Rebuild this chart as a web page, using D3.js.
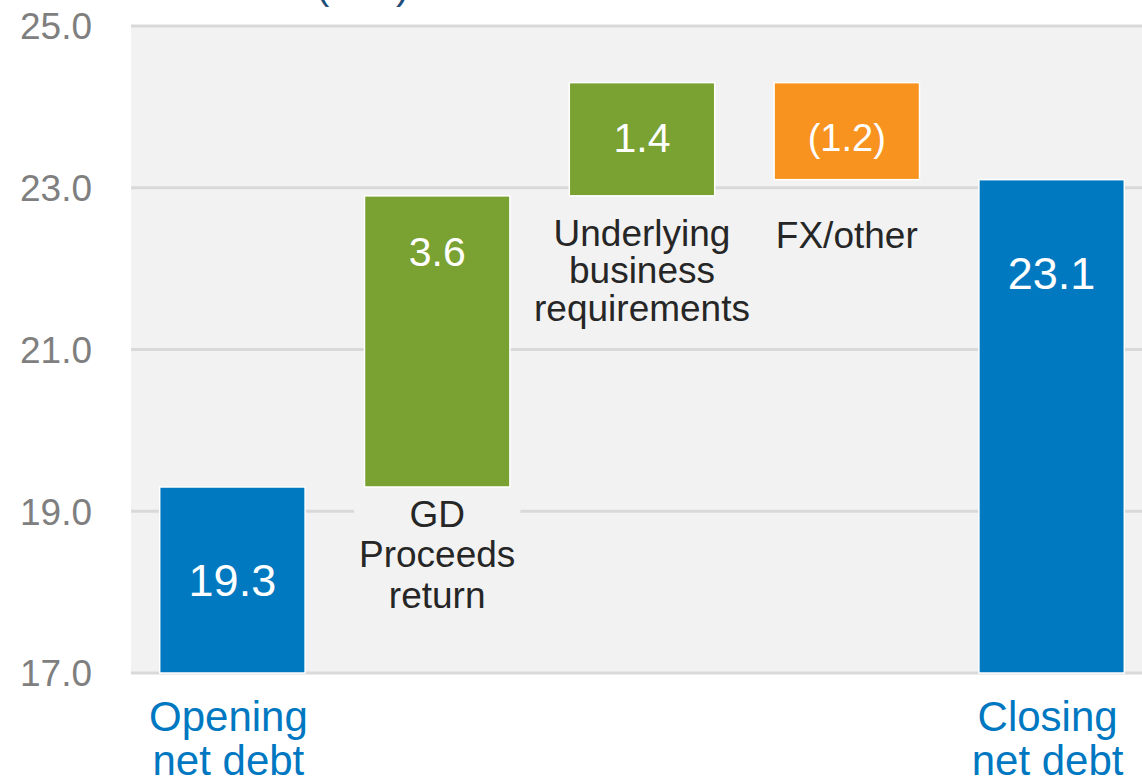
<!DOCTYPE html>
<html>
<head>
<meta charset="utf-8">
<script src="https://cdn.jsdelivr.net/npm/d3@7"></script>
<style>
  html, body { margin: 0; padding: 0; background: #fff; }
  svg { display: block; font-family: "Liberation Sans", Arial, sans-serif; }
</style>
</head>
<body>
<div id="chart"></div>
<script>
// ── Data ────────────────────────────────────────────────────
const categories = ["Opening net debt", "GD Proceeds return", "Underlying business requirements", "FX/other", "Closing net debt"];
const labelLines = [["Opening", "net debt"], ["GD", "Proceeds", "return"], ["Underlying", "business", "requirements"], ["FX/other"], ["Closing", "net debt"]];
const values = [19.3, 3.6, 1.4, -1.2, 23.1];
const kinds = ["total", "increase", "increase", "decrease", "total"];
const valueLabels = ["19.3", "3.6", "1.4", "(1.2)", "23.1"];
const yTicks = [17, 19, 21, 23, 25];
const unitTitle = "(£bn)";

// ── Layout ──────────────────────────────────────────────────
const width = 1142, height = 777;
const plot = { left: 131, right: 1142, top: 26, bottom: 673 };
const colors = { total: "#0079c1", increase: "#7aa232", decrease: "#f7931e" };
// gap from bar bottom to first label baseline, and line height, per delta bar
const labelGap = [0, 40, 50, 68, 0];
const lineGap = [44, 40.5, 37.5, 37.5, 44];

const svg = d3.select("#chart").append("svg")
  .attr("width", width).attr("height", height);

const y = d3.scaleLinear().domain([17, 25]).range([plot.bottom, plot.top]);
const x = d3.scaleBand().domain(categories).range([130, 1154])
  .paddingInner(0.29).paddingOuter(0.145);

// waterfall steps
let running = 0;
const steps = categories.map((c, i) => {
  let lo, hi;
  if (kinds[i] === "total") {
    lo = y.domain()[0]; hi = values[i]; running = values[i];
  } else {
    const start = running;
    running += values[i];
    lo = Math.min(start, running); hi = Math.max(start, running);
  }
  return { cat: c, i, lo, hi, kind: kinds[i], label: valueLabels[i], lines: labelLines[i] };
});

// title fragment (cut off at top edge)
svg.append("text")
  .attr("x", 316).attr("y", -1)
  .attr("font-size", 40).attr("fill", "#1f4e79")
  .text(unitTitle);

// plot background
svg.append("rect")
  .attr("x", plot.left).attr("y", plot.top)
  .attr("width", plot.right - plot.left).attr("height", plot.bottom - plot.top)
  .attr("fill", "#f2f2f2");

// gridlines
svg.selectAll("line.grid").data(yTicks).join("line")
  .attr("class", "grid")
  .attr("x1", plot.left).attr("x2", plot.right)
  .attr("y1", d => y(d)).attr("y2", d => y(d))
  .attr("stroke", "#d9d9d9").attr("stroke-width", 3);

// y tick labels
svg.selectAll("text.ytick").data(yTicks).join("text")
  .attr("class", "ytick")
  .attr("x", 92).attr("y", d => y(d))
  .attr("dy", "0.36em")
  .attr("text-anchor", "end")
  .attr("font-size", 37).attr("fill", "#7f7f7f")
  .text(d => d3.format(".1f")(d));

// category labels for delta bars (inside plot, on a background box)
const deltaSteps = steps.filter(d => d.kind !== "total");
const catG = svg.selectAll("g.cat").data(deltaSteps).join("g").attr("class", "cat");
const bgRects = catG.append("rect").attr("fill", "#f2f2f2");
catG.each(function(d) {
  const g = d3.select(this);
  const cx = x(d.cat) + x.bandwidth() / 2;
  const base = y(d.lo) + labelGap[d.i];
  d.lines.forEach((line, k) => {
    g.append("text")
      .attr("x", cx).attr("y", base + k * lineGap[d.i])
      .attr("text-anchor", "middle")
      .attr("font-size", 37).attr("fill", "#262626")
      .text(line);
  });
});
bgRects.each(function() {
  const bb = this.parentNode.getBBox();
  d3.select(this)
    .attr("x", bb.x - 5).attr("y", bb.y - 4)
    .attr("width", bb.width + 10).attr("height", bb.height + 8);
});

// bars
svg.selectAll("rect.bar").data(steps).join("rect")
  .attr("class", "bar")
  .attr("x", d => x(d.cat))
  .attr("y", d => y(d.hi))
  .attr("width", x.bandwidth())
  .attr("height", d => y(d.lo) - y(d.hi))
  .attr("fill", d => colors[d.kind])
  .attr("stroke", "#fff").attr("stroke-width", 1.5);

// value labels
svg.selectAll("text.val").data(steps).join("text")
  .attr("class", "val")
  .attr("x", d => x(d.cat) + x.bandwidth() / 2)
  .attr("y", d => y(d.hi) + (d.kind === "total" ? 93 : 55))
  .attr("dy", "0.36em")
  .attr("text-anchor", "middle")
  .attr("font-size", d => d.kind === "total" ? 45 : (d.kind === "decrease" ? 38 : 41))
  .attr("fill", "#fff")
  .text(d => d.label);

// total labels below axis
const totalSteps = steps.filter(d => d.kind === "total");
svg.selectAll("g.total-lab").data(totalSteps).join("g")
  .attr("class", "total-lab")
  .each(function(d) {
    const g = d3.select(this);
    const cx = x(d.cat) + x.bandwidth() / 2 - 4;
    d.lines.forEach((line, k) => {
      g.append("text")
        .attr("x", cx).attr("y", 731 + k * lineGap[d.i])
        .attr("text-anchor", "middle")
        .attr("font-size", 42).attr("fill", "#0078c1")
        .text(line);
    });
  });
</script>
</body>
</html>
